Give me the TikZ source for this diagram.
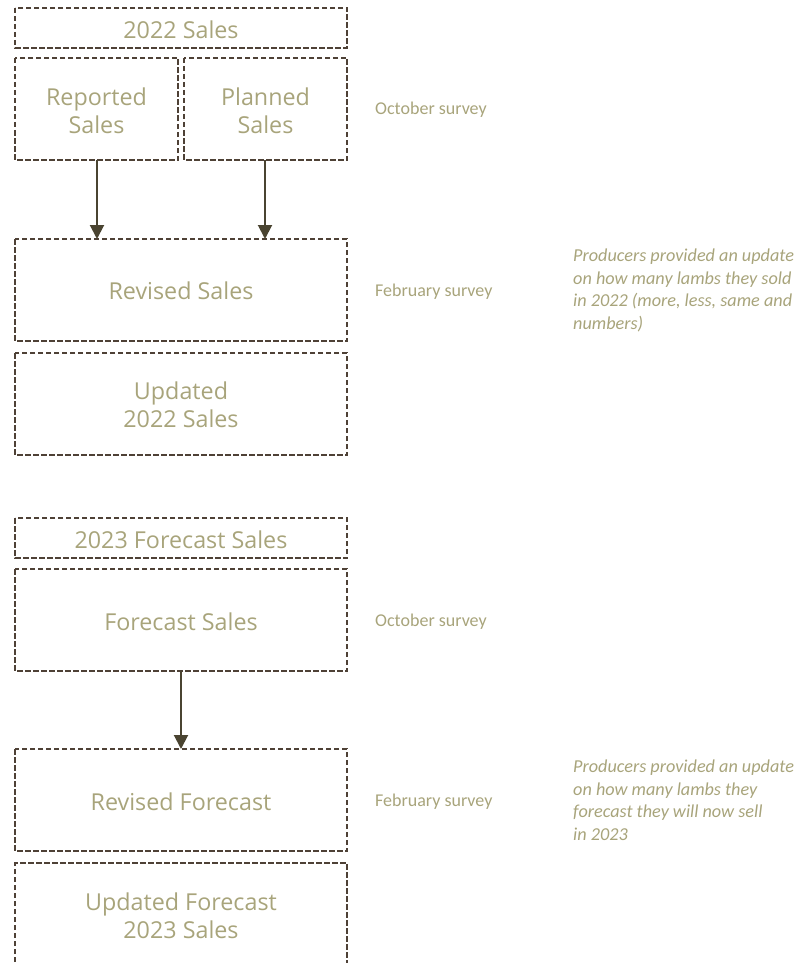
\documentclass[tikz,border=0pt]{standalone}
\usepackage{fontspec}
\setmainfont{Open Sans}
\newfontfamily\sidefont{Carlito}
\usetikzlibrary{arrows.meta}
\definecolor{boxline}{HTML}{4E4136}
\definecolor{txt}{HTML}{A8A47B}
\definecolor{arr}{HTML}{4A4431}
\tikzset{
  x=1pt, y=-1pt,
  dbox/.style={draw=boxline, dash pattern=on 5.5pt off 2.5pt, line width=1.6pt},
  boxtext/.style={text=txt, font=\fontsize{23.3}{28}\selectfont, align=center},
  survey/.style={text=txt, font=\sidefont\fontsize{18}{22}\selectfont, anchor=base west, inner sep=0pt},
  note/.style={text=txt, font=\sidefont\itshape\fontsize{18.2}{22.4}\selectfont, anchor=base west, align=left, inner sep=0pt},
  flow/.style={draw=arr, line width=2pt, -{Triangle[width=14pt,length=14pt]}}
}
\begin{document}
\begin{tikzpicture}
\useasboundingbox (0,0) rectangle (810,963);
\clip (0,0) rectangle (810,963);
% 2022
\draw[dbox] (15,8) rectangle (347,48);
\node[boxtext] (s22) at (181,30) {2022 Sales};
\draw[dbox] (15,58) rectangle (178,160);
\node[boxtext] (rep) at (96.5,111) {Reported\\Sales};
\draw[dbox] (184,58) rectangle (347,160);
\node[boxtext] (plan) at (265.5,111) {Planned\\Sales};
\draw[dbox] (15,239) rectangle (347,341);
\node[boxtext] (rev) at (181,291) {Revised Sales};
\draw[dbox] (15,353) rectangle (347,455);
\node[boxtext] (upd) at (181,405) {Updated\\2022 Sales};
\coordinate (repB) at (97,160);
\coordinate (planB) at (265,160);
\coordinate (revT1) at (97,239);
\coordinate (revT2) at (265,239);
\draw[flow] (repB) -- (revT1);
\draw[flow] (planB) -- (revT2);
\node[survey] (oct1) at (375,115) {October survey};
\node[survey] (feb1) at (375,296) {February survey};
\node[note] (n1) at (573,329) {Producers provided an update\\on how many lambs they sold\\in 2022 (more, less, same and\\numbers)};
% 2023
\draw[dbox] (15,518) rectangle (347,558);
\node[boxtext] (f23) at (181,540) {2023 Forecast Sales};
\draw[dbox] (15,569) rectangle (347,671);
\node[boxtext] (fc) at (181,622) {Forecast Sales};
\draw[dbox] (15,749) rectangle (347,851);
\node[boxtext] (rf) at (181,802) {Revised Forecast};
\draw[dbox] (15,1010) -- (15,863) -- (347,863) -- (347,1010);
\node[boxtext] (uf) at (181,916) {Updated Forecast\\2023 Sales};
\coordinate (fcB) at (181,671);
\coordinate (rfT) at (181,749);
\draw[flow] (fcB) -- (rfT);
\node[survey] (oct2) at (375,626) {October survey};
\node[survey] (feb2) at (375,806) {February survey};
\node[note] (n2) at (573,840) {Producers provided an update\\on how many lambs they\\forecast they will now sell\\in 2023};
\end{tikzpicture}
\end{document}
